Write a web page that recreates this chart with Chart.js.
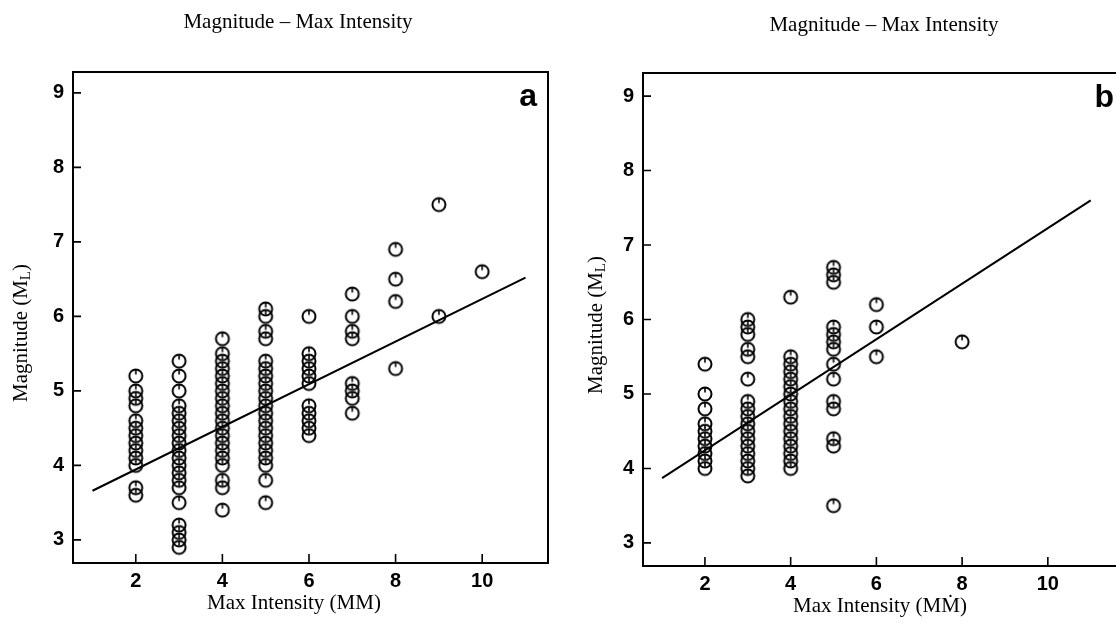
<!DOCTYPE html>
<html>
<head>
<meta charset="utf-8">
<script src="https://cdn.jsdelivr.net/npm/chart.js@4.4.1/dist/chart.umd.min.js"></script>
<style>
  html, body { margin:0; padding:0; background:#fff; overflow:hidden; width:1116px; height:627px; }
  .wrap { position:absolute; top:0; height:627px; }
  #wrapA { left:0; width:560px; }
  #wrapB { left:586px; width:560px; }
</style>
</head>
<body>
<div class="wrap" id="wrapA"><canvas id="chartA" width="560" height="627"></canvas></div>
<div class="wrap" id="wrapB"><canvas id="chartB" width="560" height="627"></canvas></div>
<script>
// ===== Dados =====
const chartTitle = 'Magnitude – Max Intensity';
const yTicks = [3, 4, 5, 6, 7, 8, 9];
const xTicks = [2, 4, 6, 8, 10];

// painel a: magnitudes por intensidade máxima (MM)
const intensA = [2, 3, 4, 5, 6, 7, 8, 9, 10];
const magA = [
  [5.2, 5.0, 4.9, 4.8, 4.6, 4.5, 4.4, 4.3, 4.2, 4.1, 4.0, 3.7, 3.6],
  [5.4, 5.2, 5.0, 4.8, 4.7, 4.6, 4.5, 4.4, 4.3, 4.2, 4.1, 4.0, 3.9, 3.8, 3.7, 3.5, 3.2, 3.1, 3.0, 2.9],
  [5.7, 5.5, 5.4, 5.3, 5.2, 5.1, 5.0, 4.9, 4.8, 4.7, 4.6, 4.5, 4.4, 4.3, 4.2, 4.1, 4.0, 3.8, 3.7, 3.4],
  [6.1, 6.0, 5.8, 5.7, 5.4, 5.3, 5.2, 5.1, 5.0, 4.9, 4.8, 4.7, 4.6, 4.5, 4.4, 4.3, 4.2, 4.1, 4.0, 3.8, 3.5],
  [6.0, 5.5, 5.4, 5.3, 5.2, 5.1, 4.8, 4.7, 4.6, 4.5, 4.4],
  [6.3, 6.0, 5.8, 5.7, 5.1, 5.0, 4.9, 4.7],
  [6.9, 6.5, 6.2, 5.3],
  [7.5, 6.0],
  [6.6]
];
const fitAx = [1, 11];
const fitAy = [3.66, 6.52];

// painel b
const intensB = [2, 3, 4, 5, 6, 8];
const magB = [
  [5.4, 5.0, 4.8, 4.6, 4.5, 4.4, 4.3, 4.2, 4.1, 4.0],
  [6.0, 5.9, 5.8, 5.6, 5.5, 5.2, 4.9, 4.8, 4.7, 4.6, 4.5, 4.4, 4.3, 4.2, 4.1, 4.0, 3.9],
  [6.3, 5.5, 5.4, 5.3, 5.2, 5.1, 5.0, 4.9, 4.8, 4.7, 4.6, 4.5, 4.4, 4.3, 4.2, 4.1, 4.0],
  [6.7, 6.6, 6.5, 5.9, 5.8, 5.7, 5.6, 5.4, 5.2, 4.9, 4.8, 4.4, 4.3, 3.5],
  [6.2, 5.9, 5.5],
  [5.7]
];
const fitBx = [1, 11];
const fitBy = [3.87, 7.6];

// ===== Marcador (círculo com tracinho no topo) =====
function criarMarcador(){
  const c = document.createElement('canvas');
  c.width = 18; c.height = 18;
  const g = c.getContext('2d');
  g.strokeStyle = '#000'; g.lineWidth = 2;
  g.beginPath(); g.arc(9, 9, 6.5, 0, Math.PI*2); g.stroke();
  g.lineWidth = 1.6;
  g.beginPath(); g.moveTo(9, 3); g.lineTo(9, 7.5); g.stroke();
  return c;
}
const marcador = criarMarcador();

const pontos = (xs, cols) => cols.flatMap((col, i) => col.map(m => ({x: xs[i], y: m})));
const reta = (xs, ys) => xs.map((x, i) => ({x, y: ys[i]}));

const SERIF = '"Liberation Serif", "Times New Roman", serif';
const SANS = '"Liberation Sans", Arial, sans-serif';

// moldura, ticks para dentro, letra do painel e títulos
const moldura = {
  id: 'moldura',
  afterDraw(chart, args, o){
    const {ctx, chartArea:{left, right, top, bottom}, scales:{x, y}} = chart;
    ctx.save();
    ctx.strokeStyle = '#000';
    ctx.lineWidth = 2;
    ctx.strokeRect(left, top, right-left, bottom-top);
    ctx.lineWidth = 1.6;
    ctx.beginPath();
    x.ticks.forEach(t => { const px = x.getPixelForValue(t.value); ctx.moveTo(px, bottom); ctx.lineTo(px, bottom-9); });
    y.ticks.forEach(t => { const py = y.getPixelForValue(t.value); ctx.moveTo(left, py); ctx.lineTo(left+8, py); });
    ctx.stroke();

    ctx.fillStyle = '#000';
    ctx.font = 'bold 32px ' + SANS;
    ctx.textAlign = 'right'; ctx.textBaseline = 'alphabetic';
    ctx.fillText(o.letra, right-11, top+34);

    // título do gráfico
    ctx.font = '21px ' + SERIF;
    ctx.textAlign = 'center'; ctx.textBaseline = 'middle';
    ctx.fillText(chartTitle, o.tituloX, o.tituloY);

    // título eixo x
    ctx.fillText(o.xTitulo, o.xTituloX, o.xTituloY);

    // título eixo y com subscrito
    const principal = 'Magnitude (M', sub = 'L', fecha = ')';
    const fSub = '15px ' + SERIF;
    const fMain = '21px ' + SERIF;
    ctx.font = fMain; const w1 = ctx.measureText(principal).width, w3 = ctx.measureText(fecha).width;
    ctx.font = fSub; const w2 = ctx.measureText(sub).width;
    const total = w1 + w2 + w3;
    ctx.translate(o.yTituloX, o.yTituloY);
    ctx.rotate(-Math.PI/2);
    ctx.textAlign = 'left'; ctx.textBaseline = 'middle';
    let cx = -total/2;
    ctx.font = fMain; ctx.fillText(principal, cx, 0); cx += w1;
    ctx.font = fSub; ctx.fillText(sub, cx, 5); cx += w2;
    ctx.font = fMain; ctx.fillText(fecha, cx, 0);
    ctx.restore();
  }
};

function montarGrafico(id, cfg){
  return new Chart(document.getElementById(id).getContext('2d'), {
    type: 'scatter',
    data: {
      datasets: [
        { type:'line', data: reta(cfg.fitX, cfg.fitY), borderColor:'#000', borderWidth:2, pointRadius:0, fill:false, tension:0 },
        { data: pontos(cfg.xs, cfg.cols), pointStyle: marcador, pointRadius: 9, borderColor:'#000', backgroundColor:'rgba(0,0,0,0)' }
      ]
    },
    options: {
      responsive: false,
      animation: false,
      events: [],
      layout: { padding: { left: 0, right: cfg.padDir, top: cfg.padTopo, bottom: 0 } },
      plugins: {
        legend: { display:false },
        tooltip: { enabled:false },
        title: { display:false },
        moldura: cfg.moldura
      },
      scales: {
        x: {
          type:'linear', min: cfg.xMin, max: cfg.xMax,
          afterBuildTicks: s => { s.ticks = xTicks.map(v => ({value:v})); },
          afterFit: s => { s.height = cfg.xAlt; },
          grid: { display:false }, border: { display:false },
          ticks: { color:'#000', padding: -2, maxRotation:0, font:{ family:SANS, size:20, weight:'bold' } }
        },
        y: {
          type:'linear', min: cfg.yMin, max: cfg.yMax,
          afterBuildTicks: s => { s.ticks = yTicks.map(v => ({value:v})); },
          afterFit: s => { s.width = cfg.yLarg; },
          grid: { display:false }, border: { display:false },
          ticks: { color:'#000', padding: 1, font:{ family:SANS, size:20, weight:'bold' } }
        }
      }
    },
    plugins: [moldura]
  });
}

montarGrafico('chartA', {
  xs: intensA, cols: magA, fitX: fitAx, fitY: fitAy,
  xMin: 0.55, xMax: 11.52, yMin: 2.69, yMax: 9.28,
  yLarg: 73, xAlt: 64, padDir: 12, padTopo: 72,
  moldura: { letra:'a', tituloX: 298, tituloY: 22, xTitulo:'Max Intensity (MM)', xTituloX: 294, xTituloY: 603, yTituloX: 21, yTituloY: 333 }
});

montarGrafico('chartB', {
  xs: intensB, cols: magB, fitX: fitBx, fitY: fitBy,
  xMin: 0.555, xMax: 11.8, yMin: 2.69, yMax: 9.31,
  yLarg: 57, xAlt: 61, padDir: 21, padTopo: 73,
  moldura: { letra:'b', tituloX: 298, tituloY: 25, xTitulo:'Max Intensity (MṀ)', xTituloX: 294, xTituloY: 606, yTituloX: 10, yTituloY: 325 }
});
</script>
</body>
</html>
